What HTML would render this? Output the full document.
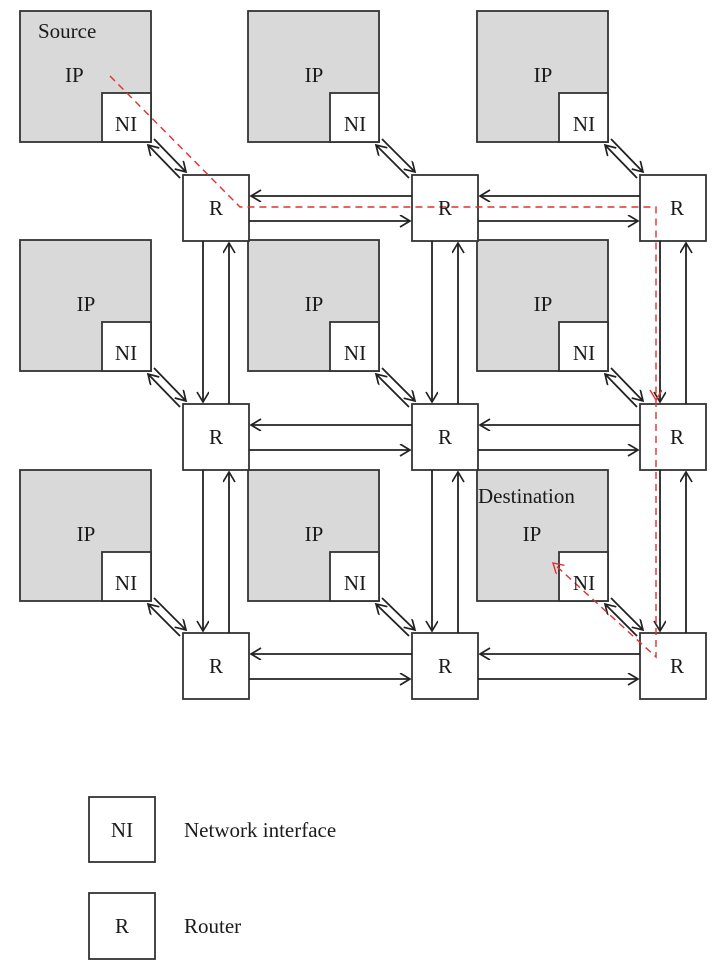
<!DOCTYPE html>
<html><head><meta charset="utf-8">
<style>
html,body{margin:0;padding:0;background:#fff;}
svg{display:block;}
text{font-family:"Liberation Serif",serif;fill:#1a1a1a;}
</style></head><body>
<svg width="720" height="973" viewBox="0 0 720 973" xmlns="http://www.w3.org/2000/svg">
<defs>
<marker id="a" markerUnits="userSpaceOnUse" markerWidth="14" markerHeight="14" refX="11" refY="6" orient="auto">
<path d="M1,0 L11,6 L1,12" fill="none" stroke="#222" stroke-width="1.7"/>
</marker>
<marker id="r" markerUnits="userSpaceOnUse" markerWidth="14" markerHeight="14" refX="11" refY="6" orient="auto">
<path d="M1,0 L11,6 L1,12" fill="none" stroke="#e03030" stroke-width="1.4"/>
</marker>
</defs>

<g fill="#d9d9d9" stroke="#333" stroke-width="1.8">
<rect x="20" y="11" width="131" height="131"/>
<rect x="248" y="11" width="131" height="131"/>
<rect x="477" y="11" width="131" height="131"/>
<rect x="20" y="240" width="131" height="131"/>
<rect x="248" y="240" width="131" height="131"/>
<rect x="477" y="240" width="131" height="131"/>
<rect x="20" y="470" width="131" height="131"/>
<rect x="248" y="470" width="131" height="131"/>
<rect x="477" y="470" width="131" height="131"/>
</g>
<g fill="#fff" stroke="#333" stroke-width="1.8">
<rect x="102" y="93" width="49" height="49"/>
<rect x="330" y="93" width="49" height="49"/>
<rect x="559" y="93" width="49" height="49"/>
<rect x="102" y="322" width="49" height="49"/>
<rect x="330" y="322" width="49" height="49"/>
<rect x="559" y="322" width="49" height="49"/>
<rect x="102" y="552" width="49" height="49"/>
<rect x="330" y="552" width="49" height="49"/>
<rect x="559" y="552" width="49" height="49"/>
<rect x="183" y="175" width="66" height="66"/>
<rect x="412" y="175" width="66" height="66"/>
<rect x="640" y="175" width="66" height="66"/>
<rect x="183" y="404" width="66" height="66"/>
<rect x="412" y="404" width="66" height="66"/>
<rect x="640" y="404" width="66" height="66"/>
<rect x="183" y="633" width="66" height="66"/>
<rect x="412" y="633" width="66" height="66"/>
<rect x="640" y="633" width="66" height="66"/>
<rect x="89" y="797" width="66" height="65"/>
<rect x="89" y="893" width="66" height="66"/>
</g>

<g stroke="#222" stroke-width="1.8" fill="none" marker-end="url(#a)">
<line x1="412" y1="196" x2="251" y2="196"/>
<line x1="640" y1="196" x2="480" y2="196"/>
<line x1="249" y1="221" x2="410" y2="221"/>
<line x1="478" y1="221" x2="638" y2="221"/>
<line x1="412" y1="425" x2="251" y2="425"/>
<line x1="640" y1="425" x2="480" y2="425"/>
<line x1="249" y1="450" x2="410" y2="450"/>
<line x1="478" y1="450" x2="638" y2="450"/>
<line x1="412" y1="654" x2="251" y2="654"/>
<line x1="640" y1="654" x2="480" y2="654"/>
<line x1="249" y1="679" x2="410" y2="679"/>
<line x1="478" y1="679" x2="638" y2="679"/>
<line x1="203" y1="241" x2="203" y2="402"/>
<line x1="432" y1="241" x2="432" y2="402"/>
<line x1="660" y1="241" x2="660" y2="402"/>
<line x1="229" y1="404" x2="229" y2="243"/>
<line x1="458" y1="404" x2="458" y2="243"/>
<line x1="686" y1="404" x2="686" y2="243"/>
<line x1="203" y1="470" x2="203" y2="631"/>
<line x1="432" y1="470" x2="432" y2="631"/>
<line x1="660" y1="470" x2="660" y2="631"/>
<line x1="229" y1="633" x2="229" y2="472"/>
<line x1="458" y1="633" x2="458" y2="472"/>
<line x1="686" y1="633" x2="686" y2="472"/>
<line x1="154" y1="139" x2="186" y2="172"/>
<line x1="180" y1="178" x2="148" y2="145"/>
<line x1="382" y1="139" x2="415" y2="172"/>
<line x1="409" y1="178" x2="376" y2="145"/>
<line x1="611" y1="139" x2="643" y2="172"/>
<line x1="637" y1="178" x2="605" y2="145"/>
<line x1="154" y1="368" x2="186" y2="401"/>
<line x1="180" y1="407" x2="148" y2="374"/>
<line x1="382" y1="368" x2="415" y2="401"/>
<line x1="409" y1="407" x2="376" y2="374"/>
<line x1="611" y1="368" x2="643" y2="401"/>
<line x1="637" y1="407" x2="605" y2="374"/>
<line x1="154" y1="598" x2="186" y2="630"/>
<line x1="180" y1="636" x2="148" y2="604"/>
<line x1="382" y1="598" x2="415" y2="630"/>
<line x1="409" y1="636" x2="376" y2="604"/>
<line x1="611" y1="598" x2="643" y2="630"/>
<line x1="637" y1="636" x2="605" y2="604"/>
</g>

<path d="M110,76 L240,207 L656,207 L656,400" fill="none" stroke="#e03030" stroke-width="1.4" stroke-dasharray="7,5" marker-end="url(#r)"/>
<path d="M656,400 L656,657 L553,563" fill="none" stroke="#e03030" stroke-width="1.4" stroke-dasharray="7,5" marker-end="url(#r)"/>

<g font-size="21">
<text x="38" y="38">Source</text>
<text x="65" y="82">IP</text>
<text x="126" y="131" text-anchor="middle">NI</text>
<text x="314" y="82" text-anchor="middle">IP</text>
<text x="355" y="131" text-anchor="middle">NI</text>
<text x="543" y="82" text-anchor="middle">IP</text>
<text x="584" y="131" text-anchor="middle">NI</text>
<text x="86" y="311" text-anchor="middle">IP</text>
<text x="126" y="360" text-anchor="middle">NI</text>
<text x="314" y="311" text-anchor="middle">IP</text>
<text x="355" y="360" text-anchor="middle">NI</text>
<text x="543" y="311" text-anchor="middle">IP</text>
<text x="584" y="360" text-anchor="middle">NI</text>
<text x="86" y="541" text-anchor="middle">IP</text>
<text x="126" y="590" text-anchor="middle">NI</text>
<text x="314" y="541" text-anchor="middle">IP</text>
<text x="355" y="590" text-anchor="middle">NI</text>
<text x="478" y="503">Destination</text>
<text x="532" y="541" text-anchor="middle">IP</text>
<text x="584" y="590" text-anchor="middle">NI</text>
<text x="216" y="215" text-anchor="middle">R</text>
<text x="445" y="215" text-anchor="middle">R</text>
<text x="677" y="215" text-anchor="middle">R</text>
<text x="216" y="444" text-anchor="middle">R</text>
<text x="445" y="444" text-anchor="middle">R</text>
<text x="677" y="444" text-anchor="middle">R</text>
<text x="216" y="673" text-anchor="middle">R</text>
<text x="445" y="673" text-anchor="middle">R</text>
<text x="677" y="673" text-anchor="middle">R</text>
<text x="122" y="837" text-anchor="middle">NI</text>
<text x="184" y="837">Network interface</text>
<text x="122" y="933" text-anchor="middle">R</text>
<text x="184" y="933">Router</text>
</g>
</svg>
</body></html>
